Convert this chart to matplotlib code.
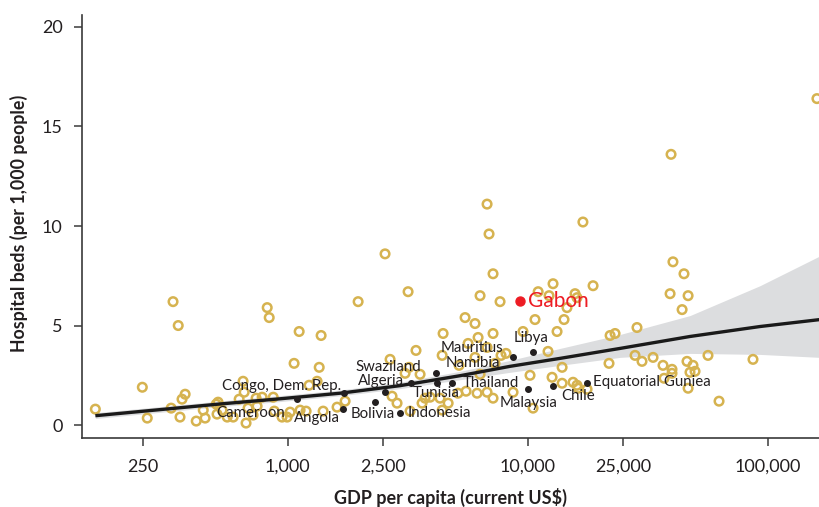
import matplotlib.pyplot as plt
from matplotlib.ticker import FixedLocator, NullLocator

plt.rcParams['font.family'] = ['Lato', 'DejaVu Sans']

# all countries (GDP per capita in current US$, hospital beds per 1,000 people)
gdp = [158, 248, 260, 327, 333, 350, 356, 363, 374, 416, 445, 453, 504, 513, 508,
       533, 560, 593, 628, 652, 659, 671, 684, 718, 746, 739, 783, 822, 838, 871,
       880, 948, 995, 1024, 1064, 1117, 1127, 1194, 1229, 1327, 1354, 1379, 1406,
       1607, 1736,
       1967, 3177, 6339, 7680, 11070, 12770, 15770, 14600, 5490, 6040, 10740, 14190,
       13270, 4446, 7180, 9570, 6220, 22080, 23150, 2673, 3428, 4406, 5650, 6780,
       7753, 8130, 12170, 3087, 3565, 3206, 5182, 6339, 6040, 7319, 10240, 12650,
       15470, 16070, 16230, 13930, 2724, 2858, 3633, 3740, 3926, 4318, 4667, 5128,
       5543, 6160, 6780, 7180, 3238, 4406, 8700, 10540, 12290,
       18750, 16070, 39260, 46670, 44060, 28580, 21850, 28050, 29990, 33340, 36690,
       39990, 39990, 46180, 48920, 47530, 49890, 56490, 87000, 37070, 46670, 62810,
       17700, 13930,
       160700, 39630, 6780, 6910, 17010, 2547, 7180, 40360, 44870]
beds = [0.8, 1.9, 0.35, 0.85, 6.2, 5.0, 0.4, 1.3, 1.55, 0.2, 0.75, 0.35, 1.05, 1.15, 0.55,
        0.75, 0.4, 0.4, 1.3, 2.2, 1.65, 0.1, 0.85, 0.5, 0.95, 1.35, 1.4, 5.9, 5.4, 1.4,
        0.7, 0.4, 0.4, 0.65, 3.1, 4.7, 0.75, 0.7, 2.0, 2.2, 2.9, 4.5, 0.7,
        0.9, 1.2,
        6.2, 6.7, 6.5, 6.2, 6.7, 7.1, 6.6, 5.9, 5.4, 5.1, 5.3, 5.3,
        4.7, 4.6, 4.6, 4.7, 4.4, 4.5, 4.6, 3.3, 3.75, 3.5, 4.1, 3.9,
        3.5, 3.6, 3.7, 2.6, 2.55, 2.9, 3.0, 2.55, 3.4, 3.1, 2.5, 2.4,
        2.15, 2.0, 1.85, 2.1, 1.45, 1.1, 1.1, 1.35, 1.4, 1.35, 1.1, 1.6,
        1.7, 1.6, 1.65, 1.35, 0.7, 0.75, 1.65, 0.85, 6.5,
        7.0, 6.4, 6.6, 6.5, 5.8, 4.9, 3.1, 3.5, 3.2, 3.4, 3.0,
        2.8, 2.6, 3.2, 3.0, 2.65, 2.7, 3.5, 3.3, 2.35, 1.85, 1.2,
        1.8, 2.9,
        16.4, 13.6, 11.1, 9.6, 10.2, 8.6, 7.6, 8.2, 7.6]

# highlighted countries
countries = ['Cameroon', 'Congo, Dem. Rep.', 'Angola', 'Bolivia', 'Algeria', 'Indonesia',
             'Swaziland', 'Namibia', 'Tunisia', 'Thailand', 'Mauritius', 'Libya',
             'Malaysia', 'Chile', 'Equatorial Guniea']
country_gdp = [1095, 1719, 1703, 2315, 2548, 2942, 3269, 4157, 4196, 4845, 8700, 10540,
               10050, 12770, 17700]
country_beds = [1.31, 1.61, 0.80, 1.16, 1.66, 0.60, 2.11, 2.61, 2.11, 2.11, 3.42, 3.67,
                1.81, 1.96, 2.11]
gabon_gdp, gabon_beds = 9305, 6.23

# local regression fit with confidence band
fit_gdp = [158, 513, 930, 1655, 2942, 5236, 8453, 13660, 24290, 47530, 93030, 165500]
fit_beds = [0.47, 1.05, 1.32, 1.6, 1.98, 2.48, 2.95, 3.35, 3.85, 4.45, 4.95, 5.3]
fit_lo = [0.33, 0.92, 1.18, 1.47, 1.83, 2.28, 2.65, 3.0, 3.4, 3.6, 3.55, 3.4]
fit_hi = [0.62, 1.2, 1.48, 1.76, 2.15, 2.7, 3.25, 3.85, 4.55, 5.5, 7.0, 8.5]

xticks = [250, 1000, 2500, 10000, 25000, 100000]
yticks = [0, 5, 10, 15, 20]

# label placement (offset in pixels, horizontal alignment)
label_style = {
    'Cameroon': (-12, -14, 'right'),
    'Congo, Dem. Rep.': (-3, 7, 'right'),
    'Angola': (-3, -9, 'right'),
    'Bolivia': (-2, -12, 'center'),
    'Algeria': (-4, 11, 'center'),
    'Indonesia': (8, 0, 'left'),
    'Swaziland': (-23, 16, 'center'),
    'Namibia': (10, 10, 'left'),
    'Tunisia': (-1, -10, 'center'),
    'Thailand': (11, 0, 'left'),
    'Mauritius': (-10, 9, 'right'),
    'Libya': (-2, 14, 'center'),
    'Malaysia': (0, -14, 'center'),
    'Chile': (8, -10, 'left'),
    'Equatorial Guniea': (6, 1, 'left'),
}

fig = plt.figure(figsize=(8.2, 5.07), dpi=100)
ax = fig.add_axes([82 / 820, 69 / 507, 738 / 820, 423 / 507])

ax.fill_between(fit_gdp, fit_lo, fit_hi, color='#dcdddf', lw=0, zorder=1)
ax.scatter(gdp, beds, s=38, facecolors='none', edgecolors='#d6b350', linewidths=1.8, zorder=2)
ax.plot(fit_gdp, fit_beds, color='#1a1a1a', lw=2.4, zorder=3, solid_capstyle='butt')
ax.scatter(country_gdp, country_beds, s=16, color='#231f20', zorder=4)
ax.scatter([gabon_gdp], [gabon_beds], s=42, color='#ed1c24', zorder=4)

for name, x, y in zip(countries, country_gdp, country_beds):
    dx, dy, ha = label_style[name]
    ax.annotate(name, (x, y), xytext=(dx, dy), textcoords='offset pixels',
                ha=ha, va='center', fontsize=10.8, color='#231f20', zorder=5)
ax.annotate('Gabon', (gabon_gdp, gabon_beds), xytext=(8, 0), textcoords='offset pixels',
            ha='left', va='center', fontsize=15, color='#ed1c24', zorder=5)

ax.set_xscale('log')
ax.set_xlim(139, 165500)
ax.set_ylim(-0.65, 20.6)
ax.xaxis.set_major_locator(FixedLocator(xticks))
ax.xaxis.set_minor_locator(NullLocator())
ax.set_xticklabels([f'{t:,}' for t in xticks])
ax.set_yticks(yticks)

for side in ['top', 'right']:
    ax.spines[side].set_visible(False)
for side in ['left', 'bottom']:
    ax.spines[side].set_color('#3a3a3a')
    ax.spines[side].set_linewidth(1.2)
ax.tick_params(axis='both', direction='out', length=6, width=1.1, color='#3a3a3a',
               labelsize=13, labelcolor='#231f20')
ax.tick_params(axis='x', pad=9)
ax.tick_params(axis='y', pad=8)

ax.set_xlabel('GDP per capita (current US$)', fontsize=13, fontweight='bold', color='#231f20')
ax.set_ylabel('Hospital beds (per 1,000 people)', fontsize=12.8, fontweight='bold', color='#231f20')
ax.xaxis.set_label_coords(0.5, -0.118)
ax.yaxis.set_label_coords(-0.073, 0.508)

fig.savefig('out.png', dpi=100)
